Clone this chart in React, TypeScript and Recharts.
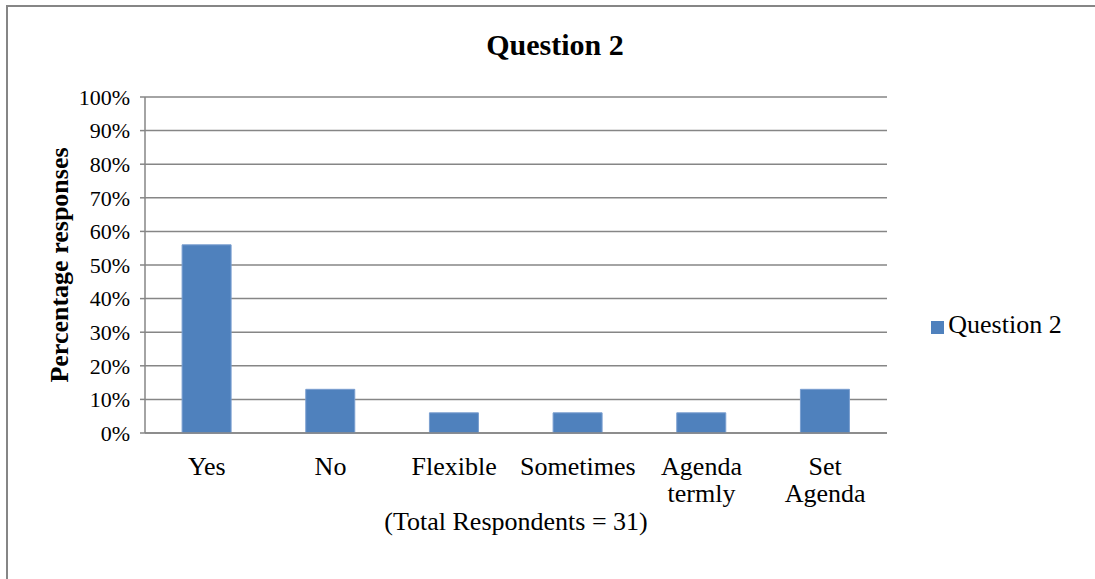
import React from 'react';
import { BarChart, Bar, XAxis, YAxis, CartesianGrid, Legend } from 'recharts';

const categories: string[] = ['Yes', 'No', 'Flexible', 'Sometimes', 'Agenda\ntermly', 'Set\nAgenda'];
const values: number[] = [56, 13, 6, 6, 6, 13];
const yTicks: number[] = [0, 10, 20, 30, 40, 50, 60, 70, 80, 90, 100];
const seriesName = 'Question 2';
const chartTitle = 'Question 2';
const yAxisTitle = 'Percentage responses';
const xAxisTitle = '(Total Respondents = 31)';

const data = categories.map((c, i) => ({ category: c, value: values[i] }));

const FONT = '"Liberation Serif", "Times New Roman", serif';
const GRAY = '#868686';
const BLUE = '#4F81BD';

const CategoryTick = (props: any) => {
  const { x, y, payload } = props;
  const lines = String(payload.value).split('\n');
  return (
    <text x={x} y={y} textAnchor="middle" fontFamily={FONT} fontSize={26} fill="#000">
      {lines.map((l, i) => (
        <tspan key={i} x={x} dy={i === 0 ? 42 : 27}>{l}</tspan>
      ))}
    </text>
  );
};

export default function App() {
  return (
    <div style={{ position: 'absolute', left: 0, top: 0, width: 1095, height: 579, overflow: 'hidden', background: '#fff' }}>
      <div style={{ position: 'absolute', left: 6, top: 5, width: 1089, height: 2, background: GRAY }} />
      <div style={{ position: 'absolute', left: 6, top: 5, width: 2, height: 574, background: GRAY }} />
      <div style={{ position: 'absolute', left: 0, top: 0 }}>
        <BarChart
          width={1095}
          height={579}
          data={data}
          margin={{ top: 97, right: 208, left: 85, bottom: 41 }}
          barCategoryGap="30%"
        >
          <CartesianGrid vertical={false} stroke={GRAY} strokeWidth={1.5} />
          <XAxis
            dataKey="category"
            interval={0}
            tickLine={false}
            tickSize={0}
            tickMargin={0}
            height={105}
            axisLine={{ stroke: GRAY, strokeWidth: 1.5 }}
            tick={<CategoryTick />}
            label={{ value: xAxisTitle, position: 'insideBottom', offset: 8, fontFamily: FONT, fontSize: 26, fill: '#000' }}
          />
          <YAxis
            width={60}
            domain={[0, 100]}
            ticks={yTicks}
            interval={0}
            tickFormatter={(v: number) => `${v}%`}
            tickSize={5}
            tickMargin={10}
            axisLine={{ stroke: GRAY, strokeWidth: 1.5 }}
            tickLine={{ stroke: GRAY, strokeWidth: 1.5 }}
            tick={{ fontFamily: FONT, fontSize: 22, fill: '#000' }}
          />
          <Legend
            layout="horizontal"
            verticalAlign="middle"
            align="center"
            iconType="square"
            iconSize={13}
            wrapperStyle={{ left: 914, top: 310, width: 175, fontFamily: FONT, fontSize: 26, textAlign: 'left' }}
            formatter={(v: string) => <span style={{ color: '#000' }}>{v}</span>}
          />
          <Bar dataKey="value" name={seriesName} fill={BLUE} stroke="#7A9ED0" strokeWidth={1} isAnimationActive={false} />
        </BarChart>
      </div>
      <svg width={1095} height={579} style={{ position: 'absolute', left: 0, top: 0, pointerEvents: 'none' }}>
        <text x={555} y={55} textAnchor="middle" fontFamily={FONT} fontSize={30} fontWeight="bold" fill="#000">{chartTitle}</text>
        <text x={68} y={265} transform="rotate(-90 68 265)" textAnchor="middle" fontFamily={FONT} fontSize={26} fontWeight="bold" fill="#000">{yAxisTitle}</text>
      </svg>
    </div>
  );
}
